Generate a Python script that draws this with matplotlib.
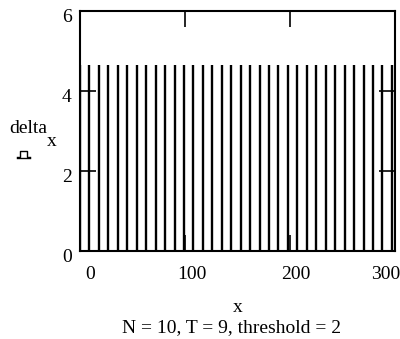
import matplotlib
matplotlib.use('Agg')
import matplotlib.pyplot as plt
import matplotlib.transforms as mtransforms
from matplotlib.lines import Line2D

# data
stem_x = [9 * k for k in range(0, 34)]
stem_h = [4.65] * len(stem_x)
x_ticks = [0, 100, 200, 300]
y_ticks = [0, 2, 4, 6]

plt.rcParams['font.family'] = ['Liberation Serif', 'DejaVu Serif']
fs = 14

fig = plt.figure(figsize=(4.0, 3.39), dpi=100)
ax = fig.add_axes([0.2, 0.2596, 0.7875, 0.708])

ax.vlines(stem_x, 0, stem_h, color='black', lw=1.7)

ax.set_xlim(0, 300)
ax.set_ylim(0, 6)
ax.set_xticks(x_ticks)
ax.set_yticks(y_ticks)
ax.tick_params(direction='in', length=11.5, width=1.2, top=True, right=True,
               labelsize=fs, color='black')
ax.tick_params(axis='x', pad=11)
ax.tick_params(axis='y', pad=6)
for s in ax.spines.values():
    s.set_linewidth(1.5)

# Mathcad-like label offsets (pixels)
x_shift = [10, 7, 6, -9]
for lab, sh in zip(ax.get_xticklabels(), x_shift):
    dx = mtransforms.ScaledTranslation(sh / 100, 0, fig.dpi_scale_trans)
    lab.set_transform(lab.get_transform() + dx)
dy = mtransforms.ScaledTranslation(0, -0.045, fig.dpi_scale_trans)
for lab in ax.get_yticklabels():
    lab.set_transform(lab.get_transform() + dy)

# y label: delta with subscript x, plus trace marker
fig.text(9 / 400, 1 - 129 / 339, 'delta', fontsize=fs, va='center', ha='left')
fig.text(47 / 400, 1 - 141 / 339, 'x', fontsize=fs, va='center', ha='left')
px = [17, 20, 20, 27, 27, 30]
py = [157, 157, 151, 151, 157, 157]
fig.add_artist(Line2D([p / 400 for p in px], [1 - p / 339 for p in py],
                      transform=fig.transFigure, color='black', lw=1.0))
fig.add_artist(Line2D([17 / 400, 30 / 400], [1 - 158 / 339, 1 - 158 / 339],
                      transform=fig.transFigure, color='black', lw=1.0))

fig.text(0.595, 1 - 307 / 339, 'x', fontsize=fs, ha='center', va='center')
fig.text(0.58, 1 - 328 / 339, 'N = 10, T = 9, threshold = 2', fontsize=fs,
         ha='center', va='center')

fig.savefig('out.png', dpi=100)
